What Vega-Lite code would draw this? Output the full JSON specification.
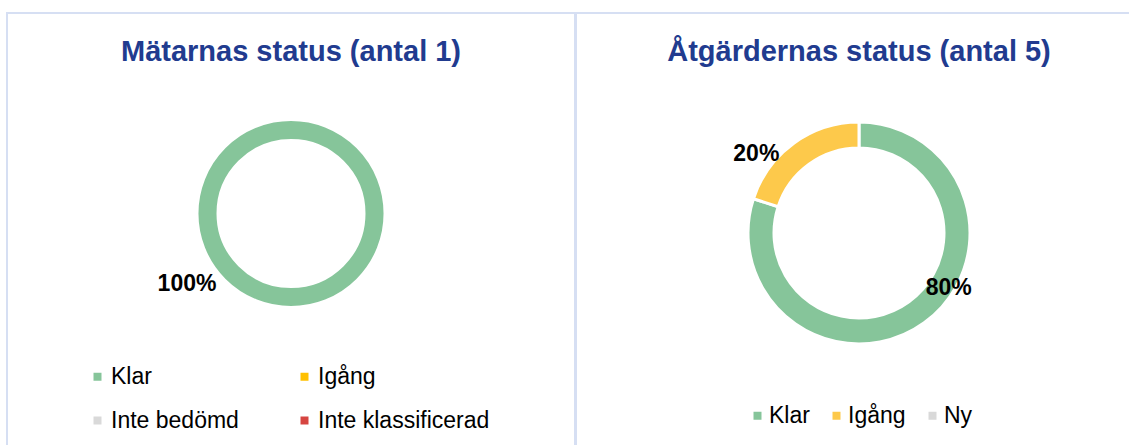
{
  "$schema": "https://vega.github.io/schema/vega-lite/v6.json",
  "padding": {"left": 6, "top": 12, "right": -14, "bottom": -9},
  "background": "white",
  "config": {
    "font": "Liberation Sans",
    "view": {"stroke": "#D6DFF3", "strokeWidth": 2},
    "style": {"view": {"stroke": "#D6DFF3", "strokeWidth": 2}, "cell": {"stroke": "#D6DFF3", "strokeWidth": 2}},
    "title": {"font": "Liberation Sans", "fontSize": 29, "fontWeight": "bold", "color": "#213B8F", "anchor": "middle", "offset": -54},
    "legend": {"labelFont": "Liberation Sans", "labelFontSize": 23, "labelColor": "#000000", "labelLimit": 400, "symbolType": "square", "symbolSize": 64, "symbolStrokeWidth": 0, "padding": 0}
  },
  "spacing": -1,
  "resolve": {"scale": {"color": "independent", "theta": "independent"}, "legend": {"color": "independent"}},
  "hconcat": [
    {
      "width": 568,
      "height": 440,
      "view": {"stroke": "#D6DFF3", "strokeWidth": 2},
      "title": "Mätarnas status (antal 1)",
      "data": {"values": [{"status": "Klar", "antal": 1, "ord": 1}]},
      "transform": [
        {"joinaggregate": [{"op": "sum", "field": "antal", "as": "total"}]},
        {"calculate": "datum.antal / datum.total", "as": "andel"}
      ],
      "layer": [
        {
          "mark": {"type": "arc", "outerRadius": 94, "innerRadius": 73, "stroke": "white", "strokeWidth": 3, "y": {"expr": "height/2 - 19.5"}},
          "encoding": {
            "theta": {"field": "antal", "type": "quantitative", "stack": true},
            "order": {"field": "ord"},
            "color": {
              "field": "status", "type": "nominal",
              "scale": {"domain": ["Klar", "Igång", "Inte bedömd", "Inte klassificerad"], "range": ["#86C59A", "#FFC000", "#D9D9D9", "#D64541"]},
              "legend": {"title": null, "orient": "none", "direction": "horizontal", "legendX": 79, "legendY": 352, "columns": 2, "columnPadding": 54, "rowPadding": 20, "labelOffset": 2}
            }
          }
        },
        {
          "mark": {"type": "text", "radius": 70.5, "dx": -104, "fontSize": 23, "fontWeight": "bold", "color": "#000000", "baseline": "middle", "align": "center", "y": {"expr": "height/2 - 19.5"}},
          "encoding": {
            "theta": {"field": "antal", "type": "quantitative", "stack": true},
            "order": {"field": "ord"},
            "text": {"field": "andel", "type": "quantitative", "format": ".0%"}
          }
        }
      ]
    },
    {
      "width": 566,
      "height": 440,
      "view": {"stroke": "#D6DFF3", "strokeWidth": 2},
      "title": "Åtgärdernas status (antal 5)",
      "data": {"values": [{"status": "Klar", "antal": 4, "ord": 1}, {"status": "Igång", "antal": 1, "ord": 2}]},
      "transform": [
        {"joinaggregate": [{"op": "sum", "field": "antal", "as": "total"}]},
        {"calculate": "datum.antal / datum.total", "as": "andel"}
      ],
      "layer": [
        {
          "mark": {"type": "arc", "outerRadius": 111, "innerRadius": 85, "stroke": "white", "strokeWidth": 3},
          "encoding": {
            "theta": {"field": "antal", "type": "quantitative", "stack": true},
            "order": {"field": "ord"},
            "color": {
              "field": "status", "type": "nominal",
              "scale": {"domain": ["Klar", "Igång", "Ny"], "range": ["#86C59A", "#FDC94B", "#D9D9D9"]},
              "legend": {"title": null, "orient": "none", "direction": "horizontal", "legendX": 170, "legendY": 391, "columnPadding": 15, "labelOffset": 0}
            }
          }
        },
        {
          "mark": {"type": "text", "radius": 110, "fontSize": 23, "fontWeight": "bold", "color": "#000000", "baseline": "middle", "align": "center",
            "dx": {"expr": "datum.status == 'Klar' ? 25 : -38"},
            "dy": {"expr": "datum.status == 'Klar' ? -34 : 10"}},
          "encoding": {
            "theta": {"field": "antal", "type": "quantitative", "stack": true},
            "order": {"field": "ord"},
            "text": {"field": "andel", "type": "quantitative", "format": ".0%"}
          }
        }
      ]
    }
  ]
}
